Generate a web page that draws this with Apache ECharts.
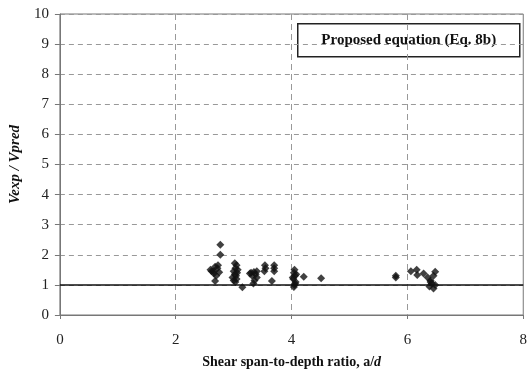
<!DOCTYPE html>
<html>
<head>
<meta charset="utf-8">
<script src="https://cdn.jsdelivr.net/npm/echarts@6/dist/echarts.min.js"></script>
<style>
  html, body { margin: 0; padding: 0; background: #fff; }
  #chart { width: 530px; height: 379px; }
</style>
</head>
<body>
<div id="chart"></div>
<script>
// shear span-to-depth ratio (a/d) and Vexp/Vpred
const ratioAD = [
  2.60, 2.62, 2.65, 2.66, 2.68, 2.68, 2.70, 2.72, 2.73, 2.75, 2.77, 2.77,
  2.98, 3.00, 3.00, 3.02, 3.02, 3.03, 3.03, 3.04, 3.05, 3.05, 3.06, 3.07, 3.15,
  3.28, 3.30, 3.32, 3.34, 3.35, 3.36, 3.38, 3.40, 3.40,
  3.53, 3.54, 3.55, 3.66, 3.70, 3.70, 3.70,
  4.02, 4.03, 4.04, 4.04, 4.05, 4.05, 4.06, 4.06, 4.07, 4.08, 4.21, 4.51,
  5.80, 5.80, 6.06, 6.16, 6.17, 6.28, 6.35, 6.38, 6.40, 6.40, 6.42, 6.45, 6.45, 6.48, 6.48
]
const vRatio = [
  1.50, 1.45, 1.45, 1.38, 1.60, 1.13, 1.30, 1.55, 1.65, 1.42, 2.00, 2.33,
  1.25, 1.45, 1.15, 1.72, 1.35, 1.55, 1.10, 1.30, 1.65, 1.20, 1.40, 1.50, 0.92,
  1.38, 1.40, 1.30, 1.05, 1.43, 1.15, 1.35, 1.25, 1.45,
  1.45, 1.65, 1.55, 1.13, 1.65, 1.55, 1.45,
  1.25, 1.20, 1.40, 0.93, 1.50, 1.00, 1.30, 1.05, 1.10, 1.35, 1.27, 1.22,
  1.30, 1.25, 1.45, 1.50, 1.33, 1.38, 1.25, 0.95, 1.15, 1.10, 1.05, 0.88, 1.30, 1.00, 1.44
]
const refLine = 1

const serif = '"Liberation Serif", "DejaVu Serif", serif'

const chart = echarts.init(document.getElementById('chart'))

const option = {
  animation: false,
  grid: {
    left: 58,
    right: 2,
    top: 14,
    bottom: 64,
    show: true,
    borderColor: '#777',
    borderWidth: 1,
  },
  xAxis: {
    type: 'value',
    min: 0,
    max: 8,
    interval: 2,
    name: '{b|Shear span-to-depth ratio, a/}{i|d}',
    nameLocation: 'middle',
    nameGap: 40,
    nameTextStyle: {
      rich: {
        b: { fontFamily: serif, fontWeight: 'bold', fontSize: 14, color: '#111' },
        i: { fontFamily: serif, fontWeight: 'bold', fontStyle: 'italic', fontSize: 14, color: '#111' },
      },
    },
    axisLine: { show: true, lineStyle: { color: '#777' } },
    axisTick: { show: true, length: 4, lineStyle: { color: '#777' } },
    axisLabel: {
      fontFamily: serif,
      fontSize: 15,
      color: '#222',
      margin: 18,
    },
    splitLine: { show: true, lineStyle: { color: '#999', type: [6, 4] } },
  },
  yAxis: {
    type: 'value',
    min: 0,
    max: 10,
    interval: 1,
    name: 'Vexp / Vpred',
    nameLocation: 'middle',
    nameGap: 31,
    nameTextStyle: {
      fontFamily: serif,
      fontWeight: 'bold',
      fontStyle: 'italic',
      fontSize: 15,
      color: '#111',
    },
    axisLine: { show: true, lineStyle: { color: '#777' } },
    axisTick: { show: true, length: 5, lineStyle: { color: '#777' } },
    axisLabel: {
      fontFamily: serif,
      fontSize: 15,
      color: '#222',
      margin: 11,
    },
    splitLine: { show: true, lineStyle: { color: '#999', type: [5, 4] } },
  },
  series: [
    {
      type: 'scatter',
      symbol: 'diamond',
      symbolSize: 8,
      itemStyle: { color: '#111' },
      data: ratioAD.map((x, i) => [x, vRatio[i]]),
      markLine: {
        silent: true,
        symbol: 'none',
        label: { show: false },
        lineStyle: { color: '#111', type: 'solid', width: 1.5 },
        data: [{ yAxis: refLine }],
      },
      z: 3,
    },
  ],
  graphic: [
    {
      type: 'group',
      left: 297,
      top: 23,
      children: [
        {
          type: 'rect',
          shape: { x: 0, y: 0, width: 222, height: 33 },
          style: { fill: '#fff', stroke: '#222', lineWidth: 1.5 },
        },
        {
          type: 'text',
          x: 111,
          y: 16.5,
          style: {
            text: 'Proposed equation (Eq. 8b)',
            font: 'bold 15px ' + serif,
            fill: '#111',
            align: 'center',
            verticalAlign: 'middle',
          },
        },
      ],
    },
  ],
}

chart.setOption(option)
</script>
</body>
</html>
